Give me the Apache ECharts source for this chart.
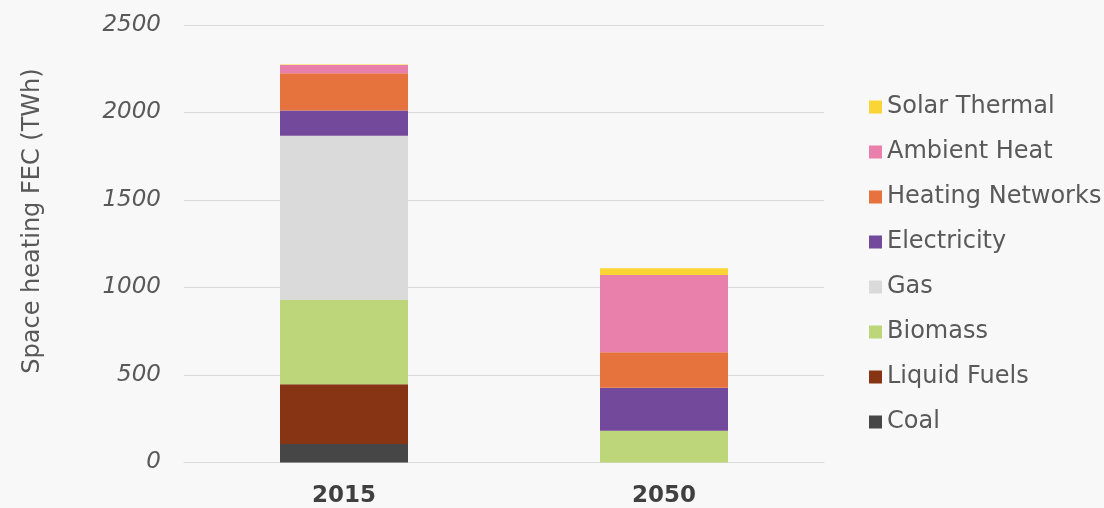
<!DOCTYPE html>
<html>
<head>
<meta charset="utf-8">
<script src="https://cdn.jsdelivr.net/npm/echarts@6/dist/echarts.min.js"></script>
<style>
  html, body { margin: 0; padding: 0; background: #f8f8f8; }
  #chart { width: 1104px; height: 508px; }
</style>
</head>
<body>
<div id="chart"></div>
<script>
// Space heating final energy consumption by carrier (TWh)
const years = ['2015', '2050'];
const yTicks = [0, 500, 1000, 1500, 2000, 2500];

const coal            = [106, 0];
const liquidFuels     = [341, 0];
const biomass         = [482, 182];
const gas             = [938, 0];
const electricity     = [144, 245];
const heatingNetworks = [214, 203];
const ambientHeat     = [47, 441];
const solarThermal    = [3, 39];

const carriers = [
  { name: 'Coal',             data: coal,            color: '#464646' },
  { name: 'Liquid Fuels',     data: liquidFuels,     color: '#873414' },
  { name: 'Biomass',          data: biomass,         color: '#bdd67a' },
  { name: 'Gas',              data: gas,             color: '#dadada' },
  { name: 'Electricity',      data: electricity,     color: '#72499b' },
  { name: 'Heating Networks', data: heatingNetworks, color: '#e6733d' },
  { name: 'Ambient Heat',     data: ambientHeat,     color: '#e97fab' },
  { name: 'Solar Thermal',    data: solarThermal,    color: '#fbd535' }
];

const font = 'DejaVu Sans, Verdana, sans-serif';
const chart = echarts.init(document.getElementById('chart'));

chart.setOption({
  backgroundColor: '#f8f8f8',
  animation: false,
  grid: { left: 184, width: 640, top: 25, bottom: 45.5, containLabel: false },
  legend: {
    orient: 'vertical',
    left: 864,
    top: 90,
    icon: 'rect',
    itemWidth: 13,
    itemHeight: 13,
    itemGap: 21,
    data: carriers.map(c => c.name).reverse(),
    textStyle: { fontFamily: font, fontSize: 24, color: '#595959', lineHeight: 24 }
  },
  xAxis: {
    type: 'category',
    data: years,
    axisLine: { show: true, lineStyle: { color: '#d9d9d9', width: 1 } },
    axisTick: { show: false },
    axisLabel: { fontFamily: font, fontSize: 23, fontWeight: 'bold', color: '#404040', margin: 22 }
  },
  yAxis: {
    type: 'value',
    min: yTicks[0],
    max: yTicks[yTicks.length - 1],
    interval: yTicks[1] - yTicks[0],
    axisLine: { show: false },
    axisTick: { show: false },
    splitLine: { lineStyle: { color: '#d9d9d9', width: 1 } },
    axisLabel: {
      fontFamily: font, fontSize: 23, fontStyle: 'italic', color: '#595959', margin: 23,
      formatter: v => String(v)
    }
  },
  graphic: [{
    type: 'text',
    x: 33,
    y: 221,
    rotation: Math.PI / 2,
    style: {
      text: 'Space heating FEC (TWh)',
      fontFamily: font,
      fontSize: 24,
      fill: '#595959',
      align: 'center',
      verticalAlign: 'middle'
    }
  }],
  series: carriers.map(c => ({
    name: c.name,
    type: 'bar',
    stack: 'fec',
    barCategoryGap: '60%',
    data: c.data,
    itemStyle: { color: c.color },
    emphasis: { disabled: true }
  }))
});
</script>
</body>
</html>
